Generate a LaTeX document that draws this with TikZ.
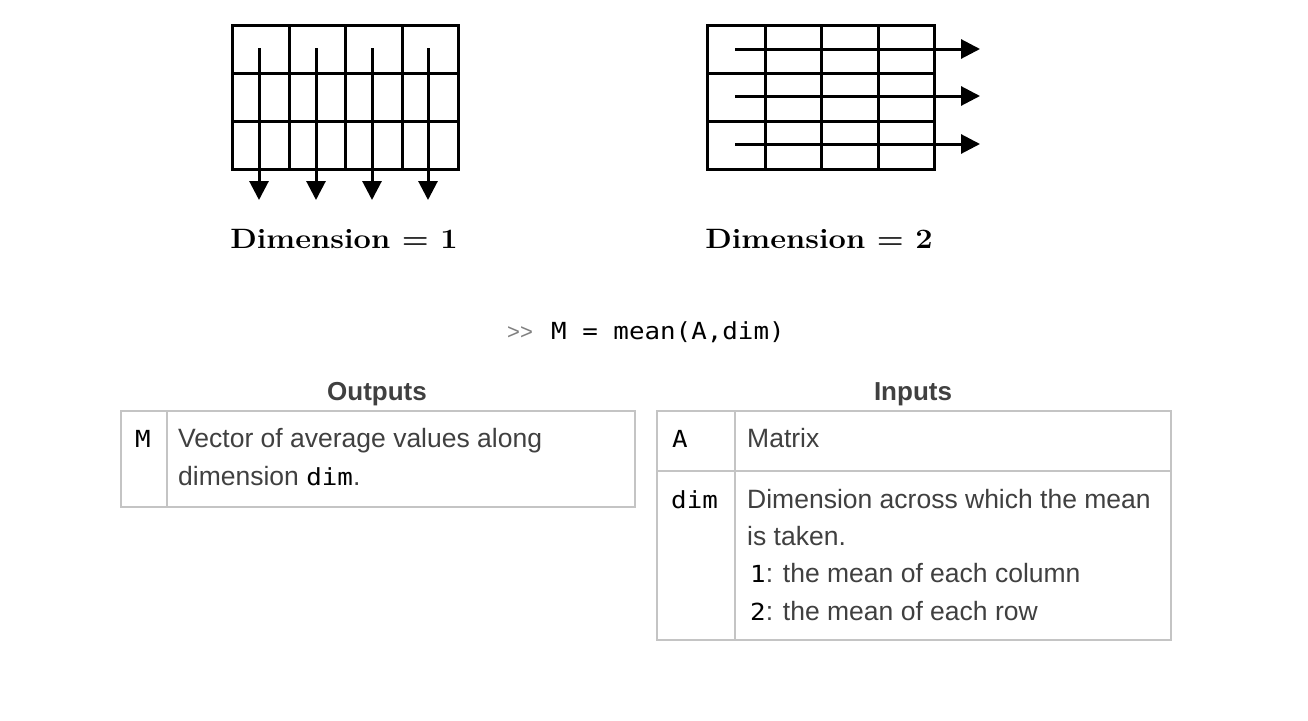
\documentclass[tikz,border=0pt]{standalone}
\usepackage{fontspec}
\usepackage{graphicx}
\usetikzlibrary{arrows.meta}

\newfontfamily\docsans{Liberation Sans}
\newfontfamily\codefont{DejaVu Sans Mono}
\definecolor{doctext}{HTML}{404040}
\definecolor{tableline}{HTML}{C4C4C4}
\newcommand{\code}[1]{{\codefont\fontsize{23.5}{28}\selectfont\color{black}\scalebox{1.1}[1]{#1}}}

\begin{document}
\begin{tikzpicture}[x=1pt,y=-1pt,
    gridline/.style={line width=3pt},
    flow/.style={line width=3pt,-{Triangle[length=19pt,width=19pt]}},
    dimlabel/.style={font=\bfseries\fontsize{28}{34}\selectfont,anchor=base,inner sep=0},
    doc/.style={font=\docsans\fontsize{26.5}{31}\selectfont,text=doctext,anchor=base west,inner sep=0},
    tableline/.style={draw=tableline,line width=2pt}]

  \path[fill=white] (0,0) rectangle (1308,720);

  % dimension 1: down the columns
  \draw[gridline] (232,25) rectangle (458,169);
  \foreach \x in {289,345,402} \draw[gridline] (\x,25) -- (\x,169);
  \foreach \y in {73,121} \draw[gridline] (232,\y) -- (458,\y);
  \foreach \x [count=\i] in {259,316,372,428} {
    \coordinate (colstart\i) at (\x,48);
    \coordinate (colend\i) at (\x,200);
    \draw[flow] (colstart\i) -- (colend\i);
  }
  \node[dimlabel] (dimone) at (344,248) {\scalebox{1.1}[1]{Dimension = 1}};

  % dimension 2: along the rows
  \draw[gridline] (707,25) rectangle (934,169);
  \foreach \x in {765,821,878} \draw[gridline] (\x,25) -- (\x,169);
  \foreach \y in {73,121} \draw[gridline] (707,\y) -- (934,\y);
  \foreach \y [count=\i] in {49,96,144} {
    \coordinate (rowstart\i) at (735,\y);
    \coordinate (rowend\i) at (980,\y);
    \draw[flow] (rowstart\i) -- (rowend\i);
  }
  \node[dimlabel] (dimtwo) at (819,248) {\scalebox{1.1}[1]{Dimension = 2}};

  % syntax line
  \node[doc,font=\docsans\fontsize{22}{26}\selectfont,text=gray] (prompt) at (507,339) {{>}{>}};
  \node[doc] (call) at (551,339) {\code{M = mean(A,dim)}};

  % outputs table
  \node[doc,anchor=base,font=\docsans\bfseries\fontsize{26}{31}\selectfont] (outtitle) at (377,400) {Outputs};
  \draw[tableline] (121,411) rectangle (635,507);
  \draw[tableline] (167,411) -- (167,507);
  \begin{scope}[every node/.style={doc}]
    \node (mname) at (135,447) {\code{M}};
    \node (mdesc1) at (178,447) {Vector of average values along};
    \node (mdesc2) at (178,485) {dimension \code{dim}.};
  \end{scope}

  % inputs table
  \node[doc,anchor=base,font=\docsans\bfseries\fontsize{26}{31}\selectfont] (intitle) at (913,400) {Inputs};
  \draw[tableline] (657,411) rectangle (1171,640);
  \draw[tableline] (735,411) -- (735,640);
  \draw[tableline] (657,471) -- (1171,471);
  \begin{scope}[every node/.style={doc}]
    \node (aname) at (672,447) {\code{A}};
    \node (adesc) at (747,447) {Matrix};
    \node (dimname) at (671,508) {\code{dim}};
    \node (dimdesc1) at (747,508) {Dimension across which the mean};
    \node (dimdesc2) at (747,545) {is taken.};
    \node (dimopt1) at (750,582) {\code{1}: the mean of each column};
    \node (dimopt2) at (750,620) {\code{2}: the mean of each row};
  \end{scope}

\end{tikzpicture}
\end{document}
